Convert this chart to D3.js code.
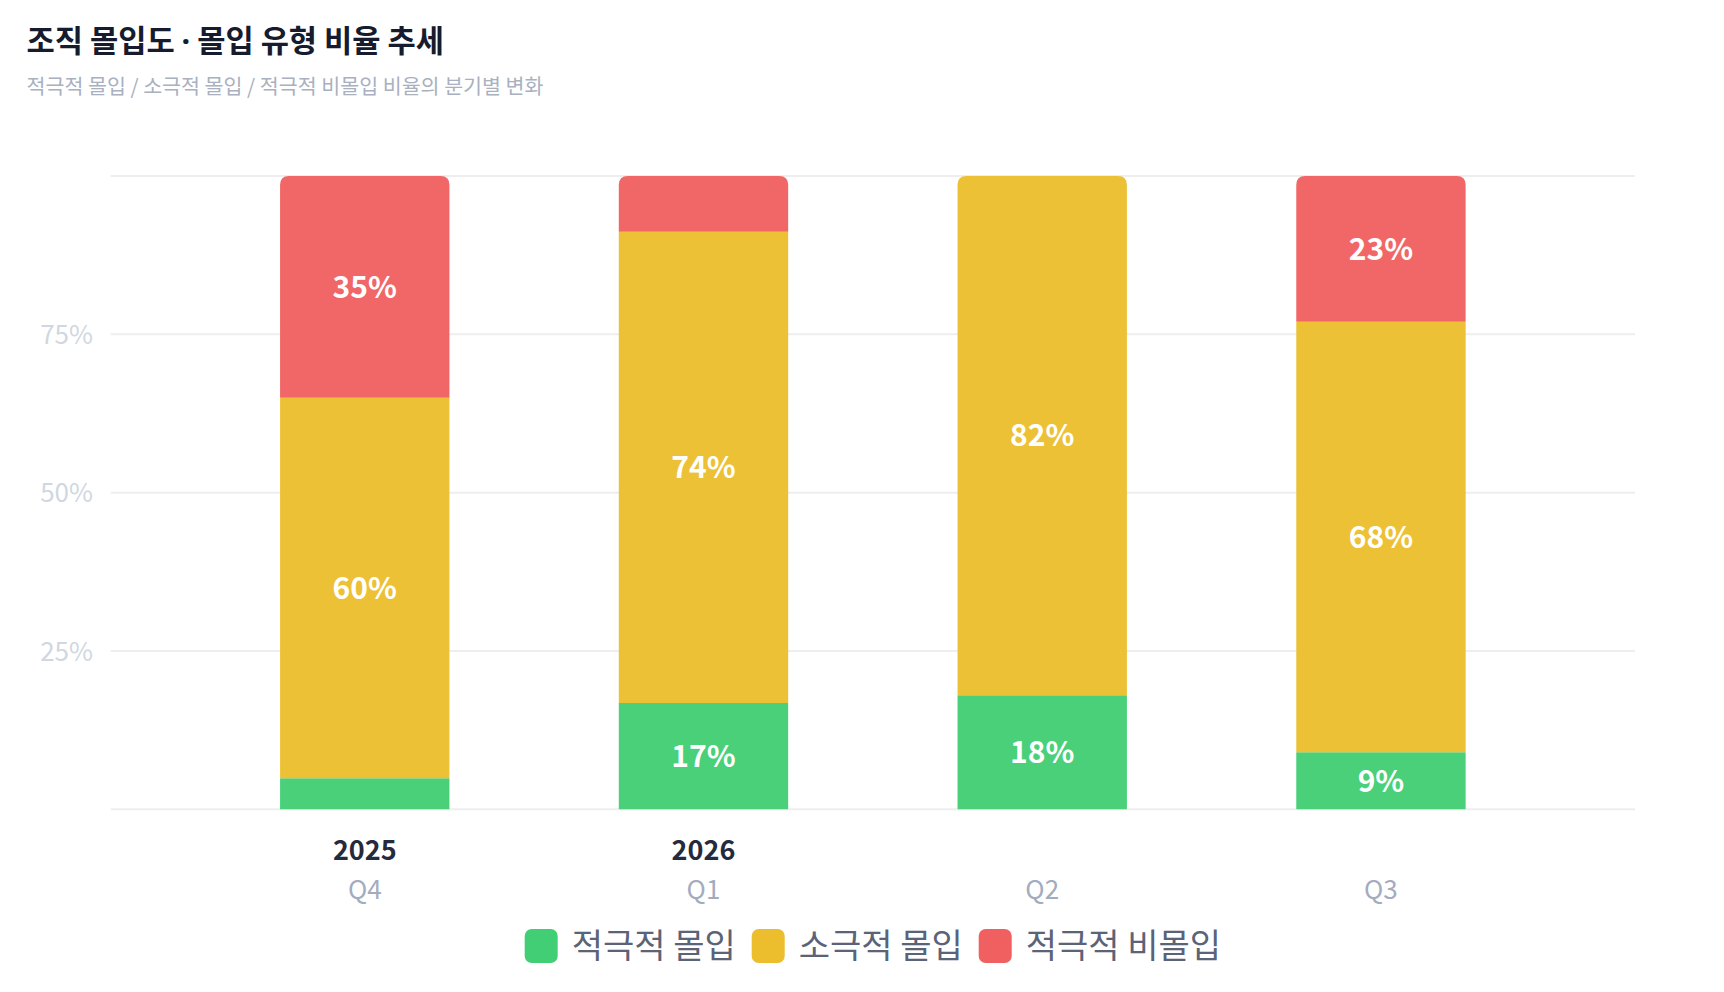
<!DOCTYPE html>
<html><head><meta charset="utf-8">
<script src="https://cdn.jsdelivr.net/npm/d3@7"></script>
<style>
html,body{margin:0;padding:0;background:#fff;}
body{font-family:"Noto Sans CJK KR","Noto Sans",sans-serif;}
</style></head>
<body><svg id="c" width="1724" height="992"></svg>
<script>
const quarters = ["Q4","Q1","Q2","Q3"];
const years = ["2025","2026","",""];
const seriesNames = ["적극적 몰입","소극적 몰입","적극적 비몰입"];
const seriesColors = ["#42CE74","#ECBE2E","#F06060"];
const activeVals = [4.9, 16.8, 18.0, 9.0];
const passiveVals = [60.1, 74.4, 82.0, 68.0];
const disengagedVals = [35.0, 8.8, 0, 23.0];
const yTicks = [25, 50, 75];
const gridTicks = [0, 25, 50, 75, 100];
const titleParts = ["조직 몰입도 ", "·", " 몰입 유형 비율 추세"];
const subtitle = "적극적 몰입 / 소극적 몰입 / 적극적 비몰입 비율의 분기별 변화";

const svg = d3.select("#c");
const font = '"Noto Sans CJK KR","Noto Sans",sans-serif';
const M = {l:110.7, r:1635, t:176, b:809.3};

const tt = svg.append("text").attr("x",26.5).attr("y",52).attr("font-family",font)
  .attr("font-size",30.7).attr("font-weight",700).attr("fill","#161b2e");
tt.append("tspan").text(titleParts[0]);
tt.append("tspan").attr("font-family",'"Noto Sans",sans-serif').text(titleParts[1]);
tt.append("tspan").text(titleParts[2]);
svg.append("text").attr("x",26.5).attr("y",94).attr("font-family",font)
  .attr("font-size",20.6).attr("fill","#a9b0bf").text(subtitle);

const x = d3.scaleBand().domain(quarters.map((q,i)=>i)).range([M.l,M.r]).paddingInner(0.5).paddingOuter(0.5);
const y = d3.scaleLinear().domain([0,100]).range([M.b,M.t]);

const g = svg.append("g");
g.selectAll("line.grid").data(gridTicks).join("line")
  .attr("x1",M.l).attr("x2",M.r).attr("y1",d=>y(d)).attr("y2",d=>y(d))
  .attr("stroke","#eeeeee").attr("stroke-width",2);

const yAxis = d3.axisLeft(y).tickValues(yTicks).tickFormat(d=>d+"%").tickSize(0).tickPadding(0);
const ya = svg.append("g").attr("transform",`translate(93,0)`).call(yAxis);
ya.select(".domain").remove();
ya.selectAll("text").attr("font-family",font).attr("font-size",26).attr("fill","#d0d7e1").attr("dy","0.35em");

const data = quarters.map((q,i)=>({i, vals:[activeVals[i],passiveVals[i],disengagedVals[i]]}));
const stack = d3.stack().keys([0,1,2]).value((d,k)=>d.vals[k]);
const stacked = stack(data);

function topIdx(d){ let t=-1; d.vals.forEach((v,k)=>{ if(v>0) t=k; }); return t; }

const r = 9;
stacked.forEach((layer,k)=>{
  layer.forEach(seg=>{
    const d = seg.data;
    const v = d.vals[k];
    if(v<=0) return;
    const x0 = x(d.i), w = x.bandwidth();
    const y0 = y(seg[0]), y1 = y(seg[1]);
    let path;
    if(topIdx(d)===k){
      path = `M${x0},${y0}L${x0},${y1+r}Q${x0},${y1} ${x0+r},${y1}L${x0+w-r},${y1}Q${x0+w},${y1} ${x0+w},${y1+r}L${x0+w},${y0}Z`;
    } else {
      path = `M${x0},${y0}L${x0},${y1}L${x0+w},${y1}L${x0+w},${y0}Z`;
    }
    g.append("path").attr("d",path).attr("fill",seriesColors[k]).attr("fill-opacity",0.96);
    if(v>=9){
      g.append("text").attr("x",x0+w/2).attr("y",(y0+y1)/2).attr("dy","0.36em")
        .attr("text-anchor","middle").attr("font-family",font).attr("font-size",30)
        .attr("font-weight",700).attr("fill","#ffffff").text(Math.round(v)+"%");
    }
  });
});

const xa = svg.append("g");
quarters.forEach((q,i)=>{
  const cx = x(i)+x.bandwidth()/2;
  if(years[i]) xa.append("text").attr("x",cx).attr("y",850).attr("dy","0.36em").attr("text-anchor","middle")
    .attr("font-family",font).attr("font-size",27).attr("font-weight",700).attr("fill","#252a3d").text(years[i]);
  xa.append("text").attr("x",cx).attr("y",890).attr("dy","0.36em").attr("text-anchor","middle")
    .attr("font-family",font).attr("font-size",26).attr("fill","#a3acbf").text(q);
});

// legend
const lg = svg.append("g");
let lx = 0;
seriesNames.forEach((n,k)=>{
  const it = lg.append("g");
  it.append("rect").attr("x",0).attr("y",-17).attr("width",33).attr("height",34).attr("rx",7)
    .attr("fill",seriesColors[k]);
  const t = it.append("text").attr("x",47).attr("y",0).attr("dy","0.36em").attr("font-family",font)
    .attr("font-size",34).attr("fill","#5a6377").text(n);
  const tw = t.node().getComputedTextLength();
  it.attr("transform",`translate(${lx},0)`);
  lx += 47 + tw + 16;
});
const totalW = lx - 16;
lg.attr("transform",`translate(${(M.l+M.r)/2 - totalW/2},946)`);
</script></body></html>
